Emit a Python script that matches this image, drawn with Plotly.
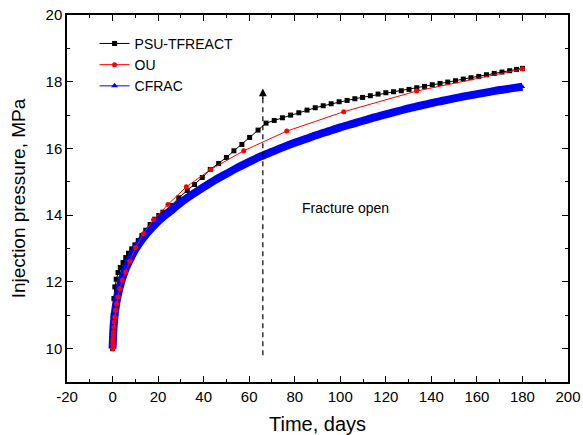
import plotly.graph_objects as go

# ---------------- data ----------------
psu_t = [0, 0.1, 0.3, 0.6, 1.0, 1.6, 2.4, 3.4, 4.6, 5.8, 7.0, 8.4, 9.8, 11.3, 12.9,
         14.6, 16.5, 18.5, 20.3, 22.1, 25.8, 29.1, 32.8, 36.0, 39.4, 42.9, 46.6, 50.0,
         53.3, 56.8, 60.2, 63.9, 67.4, 71.0, 74.6, 78.2, 81.8, 85.4, 89.0, 92.5, 96.0,
         99.5, 103.0, 106.4, 109.8, 113.2, 116.6, 120.0, 123.4, 126.8, 130.2, 133.6,
         137.0, 140.4, 143.8, 147.2, 150.6, 154.0, 157.4, 160.8, 164.2, 167.6, 171.0,
         174.4, 177.4, 180.0]
psu_p = [10.0, 10.5, 11.0, 11.5, 11.85, 12.08, 12.28, 12.43, 12.58, 12.73, 12.86, 12.99,
         13.11, 13.24, 13.39, 13.55, 13.72, 13.88, 13.99, 14.09, 14.29, 14.52, 14.74, 14.92,
         15.13, 15.37, 15.55, 15.73, 15.93, 16.12, 16.33, 16.55, 16.76, 16.84, 16.92, 17.0,
         17.07, 17.15, 17.22, 17.28, 17.34, 17.40, 17.44, 17.49, 17.53, 17.58, 17.63, 17.67,
         17.70, 17.73, 17.77, 17.82, 17.86, 17.91, 17.95, 17.99, 18.03, 18.08, 18.12, 18.16,
         18.21, 18.25, 18.29, 18.33, 18.37, 18.40]

ou_t = [0, 0.1, 0.18, 0.24, 0.32, 0.43, 0.57, 0.76, 1.0, 1.35, 1.8, 2.4, 3.2, 4.3, 5.7,
        7.6, 10.1, 13.5, 18.0, 24.3, 32.4, 43.1, 57.6, 76.5, 101.5, 133.5, 180.0]
ou_p = [10.0, 10.12, 10.22, 10.3, 10.4, 10.5, 10.65, 10.8, 10.95, 11.15, 11.35, 11.55,
        11.8, 12.05, 12.3, 12.62, 13.03, 13.44, 13.86, 14.32, 14.85, 15.37, 15.93, 16.52,
        17.1, 17.72, 18.38]

cfrac_t = [0, 0.25, 0.5, 1, 1.5, 2, 3, 4, 5, 6, 8, 10, 12, 15, 18, 21, 25, 30, 35, 40,
           45, 50, 55, 60, 65, 70, 75, 80, 85, 90, 95, 100, 105, 110, 115, 120, 125, 130,
           135, 140, 145, 150, 155, 160, 165, 170, 175, 180]
cfrac_p = [10.0, 10.4, 10.7, 11.05, 11.3, 11.5, 11.8, 12.05, 12.25, 12.43, 12.72, 12.97,
           13.18, 13.45, 13.68, 13.88, 14.1, 14.38, 14.62, 14.84, 15.05, 15.24, 15.43,
           15.6, 15.76, 15.9, 16.04, 16.17, 16.29, 16.41, 16.52, 16.63, 16.73, 16.83,
           16.93, 17.02, 17.11, 17.2, 17.28, 17.36, 17.43, 17.5, 17.57, 17.63, 17.69,
           17.75, 17.80, 17.85]

x_ticks = [-20, 0, 20, 40, 60, 80, 100, 120, 140, 160, 180, 200]
y_ticks = [10, 12, 14, 16, 18, 20]

fracture_t = 66
arrow_bottom, arrow_top = 9.8, 17.8
label_text = "Fracture open"
label_t, label_p = 102.5, 14.23

FONT = "Arial, Liberation Sans, sans-serif"
BLUE = "#0000ff"

fig = go.Figure()
fig.add_trace(go.Scatter(
    x=psu_t, y=psu_p, mode="lines+markers", name="PSU-TFREACT", legendrank=1,
    line=dict(color="black", width=1),
    marker=dict(symbol="square", size=5, color="black")))
# thick band of dense CFRAC triangles
fig.add_trace(go.Scatter(
    x=cfrac_t, y=cfrac_p, mode="lines+markers", name="CFRAC", showlegend=False,
    line=dict(color=BLUE, width=8, shape="spline", smoothing=0.8),
    marker=dict(symbol="triangle-up", size=5, color=BLUE)))
fig.add_trace(go.Scatter(
    x=ou_t, y=ou_p, mode="lines+markers", name="OU", legendrank=2,
    line=dict(color="#ff0000", width=1),
    marker=dict(symbol="circle", size=5, color="#ff0000")))
# legend entry for CFRAC (thin line with triangle)
fig.add_trace(go.Scatter(
    x=[None], y=[None], mode="lines+markers", name="CFRAC", legendrank=3,
    line=dict(color=BLUE, width=1),
    marker=dict(symbol="triangle-up", size=6, color=BLUE)))

# dashed vertical line with arrowhead
fig.add_shape(type="line", x0=fracture_t, x1=fracture_t, y0=arrow_bottom, y1=arrow_top - 0.25,
              xref="x", yref="y", line=dict(color="black", width=1.2, dash="5px,4px"))
fig.add_annotation(x=fracture_t, y=arrow_top, xref="x", yref="y", ax=0, ay=12,
                   showarrow=True, arrowhead=2, arrowsize=1.3, arrowwidth=1.2,
                   arrowcolor="black", text="")
fig.add_annotation(x=label_t, y=label_p, xref="x", yref="y", text=label_text,
                   showarrow=False, font=dict(family=FONT, size=14, color="black"))

axis_common = dict(
    showline=True, linecolor="black", linewidth=1.5, mirror="allticks",
    ticks="inside", ticklen=6, tickwidth=1.2, tickcolor="black",
    showgrid=False, zeroline=False, automargin=False,
    tickfont=dict(family=FONT, size=15, color="black"),
    minor=dict(ticks="inside", ticklen=3.5, tickwidth=1.2, tickcolor="black", showgrid=False),
)
fig.update_xaxes(range=[-20, 200], tickvals=x_ticks, ticktext=[str(v) for v in x_ticks],
                 minor_dtick=10, minor_tick0=0,
                 title=dict(text="Time, days", font=dict(family=FONT, size=20, color="black")),
                 **axis_common)
fig.update_yaxes(range=[9, 20], tickvals=y_ticks, ticktext=[str(v) for v in y_ticks],
                 minor_dtick=1, minor_tick0=0,
                 title=dict(text="Injection pressure, MPa",
                            font=dict(family=FONT, size=19, color="black")),
                 **axis_common)

fig.update_layout(
    width=583, height=435,
    margin=dict(l=67, r=15, t=15, b=53),
    paper_bgcolor="white", plot_bgcolor="white",
    showlegend=True,
    legend=dict(x=0.055, y=0.965, xanchor="left", yanchor="top",
                bgcolor="rgba(0,0,0,0)", borderwidth=0,
                font=dict(family=FONT, size=14, color="black"),
                tracegroupgap=0, itemwidth=30),
)

fig.write_html("out.html")
